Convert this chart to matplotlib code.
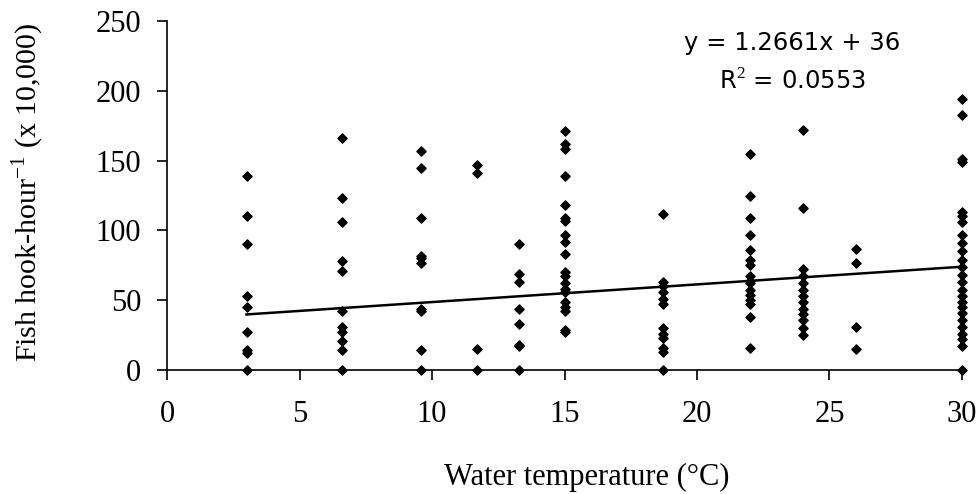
import numpy as np
import matplotlib.pyplot as plt

plt.rcParams['mathtext.fontset'] = 'custom'
plt.rcParams['mathtext.rm'] = 'Liberation Serif'

# catch rate per sampling temperature
temps = [3, 6.6, 9.6, 11.7, 13.3, 15, 18.7, 22, 24, 26, 30]
rates = [
    [139, 110, 90, 53, 45, 27, 14, 12, 0],
    [166, 123, 106, 78, 71, 42, 31, 27, 21, 14, 0],
    [157, 145, 109, 82, 80, 77, 44, 42, 14, 0],
    [147, 141, 15, 0],
    [90, 69, 63, 44, 33, 18, 17, 0],
    [171, 162, 158, 139, 118, 109, 107, 97, 92, 83, 70, 67, 62, 58, 56, 49, 45, 42, 29, 27],
    [112, 63, 60, 56, 51, 47, 30, 26, 23, 16, 13, 0],
    [155, 125, 109, 97, 86, 79, 75, 67, 64, 62, 57, 54, 50, 47, 38, 16],
    [172, 116, 72, 67, 62, 57, 53, 49, 44, 40, 36, 30, 25],
    [87, 77, 31, 15],
    [194, 183, 151, 149, 113, 110, 106, 97, 91, 85, 79, 74, 68, 63, 57, 53, 49, 45, 41, 36, 31, 26, 22, 17, 0],
]
slope, intercept, r2 = 1.2661, 36, 0.0553

xs = np.concatenate([[t] * len(r) for t, r in zip(temps, rates)])
ys = np.concatenate(rates)

fig = plt.figure(figsize=(9.78, 4.94), dpi=100)
ax = fig.add_axes([0.1708, 0.251, 0.8128, 0.7065])

ax.scatter(xs, ys, marker='D', s=22, color='black', zorder=3, clip_on=False)
fx = np.array([3, 30])
ax.plot(fx, slope * fx + intercept, color='black', lw=1.8, zorder=2)

ax.set_xlim(0, 30)
ax.set_ylim(0, 250)
ax.set_xticks(range(0, 31, 5))
ax.set_yticks(range(0, 251, 50))
for s in ['top', 'right']:
    ax.spines[s].set_visible(False)
for s in ['left', 'bottom']:
    ax.spines[s].set_linewidth(1.2)
ax.tick_params(direction='out', length=7.5, width=1.2, labelsize=22)
ax.xaxis.set_tick_params(pad=14)
ax.yaxis.set_tick_params(pad=11)
for lab in ax.get_xticklabels() + ax.get_yticklabels():
    lab.set_fontfamily('Liberation Serif')

ax.set_xlabel('Water temperature (\u00b0C)', fontfamily='Liberation Serif', fontsize=22)
ax.set_ylabel(r'Fish hook-hour$^{-1}$ (x 10,000)', fontfamily='Liberation Serif', fontsize=21.5)
ax.xaxis.set_label_coords(0.528, -0.265)
ax.yaxis.set_label_coords(-0.152, 0.509)

ax.text(792 / 978, 1 - 43 / 494, 'y = %.4fx + %d' % (slope, intercept), transform=fig.transFigure,
        ha='center', va='center', fontfamily='DejaVu Sans', fontsize=17.5)
ax.text(792 / 978, 1 - 82 / 494, 'R$^2$ = %.4f' % r2, transform=fig.transFigure,
        ha='center', va='center', fontfamily='DejaVu Sans', fontsize=17.5)

fig.savefig('out.png', dpi=100)
